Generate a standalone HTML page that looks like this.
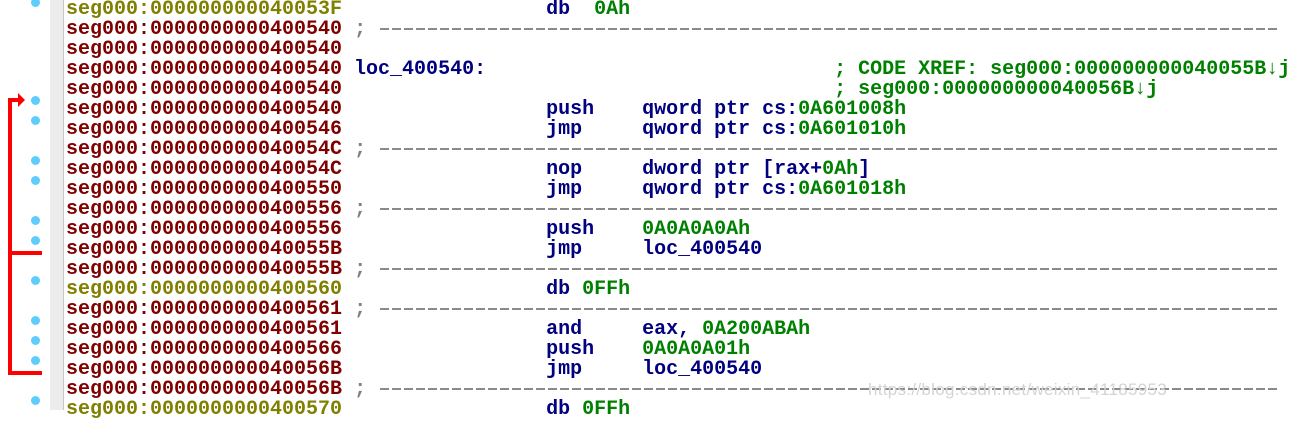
<!DOCTYPE html><html><head><style>
body{margin:0;width:1294px;height:410px;overflow:hidden;background:#fff;position:relative}
.r{position:absolute;left:66px;font:bold 20px/20px "Liberation Mono",monospace;white-space:pre;color:#000080}
.a{color:#800000}.o{color:#808000}.g{color:#008000}.d{color:#808080}
.dot{position:absolute;left:31px;width:9px;height:9px;border-radius:50%;background:#5fcdfb}
.ln{position:absolute;left:380px;width:898px;height:2px;background:repeating-linear-gradient(90deg,#8a8a8a 0 9px,transparent 9px 12px)}
</style></head><body>
<div style="position:absolute;left:50px;top:0;width:13px;height:410px;background:#ececec"></div>
<div style="position:absolute;left:63px;top:0;width:1px;height:410px;background:#c8c8c8"></div>
<svg style="position:absolute;left:0;top:0" width="60" height="410">
<path d="M10 375 V100 H19" stroke="#f00" stroke-width="4" fill="none"/>
<polygon points="18,93 25,100 18,107" fill="#f00"/>
<path d="M10 253 H42 M10 373 H42" stroke="#f00" stroke-width="4" fill="none"/>
</svg>
<div class="dot" style="top:-2px"></div>
<div class="dot" style="top:96px"></div><div class="dot" style="top:116px"></div>
<div class="dot" style="top:156px"></div><div class="dot" style="top:176px"></div>
<div class="dot" style="top:216px"></div><div class="dot" style="top:236px"></div>
<div class="dot" style="top:276px"></div>
<div class="dot" style="top:316px"></div><div class="dot" style="top:336px"></div><div class="dot" style="top:356px"></div>
<div class="dot" style="top:396px"></div>
<div class="ln" style="top:28px"></div><div class="ln" style="top:148px"></div><div class="ln" style="top:208px"></div>
<div class="ln" style="top:268px"></div><div class="ln" style="top:308px"></div><div class="ln" style="top:388px"></div>
<div class="r" style="top:0px"><span class="o">seg000:000000000040053F</span>                 db  <span class="g">0Ah</span></div>
<div class="r" style="top:20px"><span class="a">seg000:0000000000400540</span> <span class="d">;</span></div>
<div class="r" style="top:40px"><span class="a">seg000:0000000000400540</span></div>
<div class="r" style="top:60px"><span class="a">seg000:0000000000400540</span> loc_400540:                             <span class="g">; CODE XREF: seg000:000000000040055B↓j</span></div>
<div class="r" style="top:80px"><span class="a">seg000:0000000000400540</span>                                         <span class="g">; seg000:000000000040056B↓j</span></div>
<div class="r" style="top:100px"><span class="a">seg000:0000000000400540</span>                 push    qword ptr cs:<span class="g">0A601008h</span></div>
<div class="r" style="top:120px"><span class="a">seg000:0000000000400546</span>                 jmp     qword ptr cs:<span class="g">0A601010h</span></div>
<div class="r" style="top:140px"><span class="a">seg000:000000000040054C</span> <span class="d">;</span></div>
<div class="r" style="top:160px"><span class="a">seg000:000000000040054C</span>                 nop     dword ptr [rax+<span class="g">0Ah</span>]</div>
<div class="r" style="top:180px"><span class="a">seg000:0000000000400550</span>                 jmp     qword ptr cs:<span class="g">0A601018h</span></div>
<div class="r" style="top:200px"><span class="a">seg000:0000000000400556</span> <span class="d">;</span></div>
<div class="r" style="top:220px"><span class="a">seg000:0000000000400556</span>                 push    <span class="g">0A0A0A0Ah</span></div>
<div class="r" style="top:240px"><span class="a">seg000:000000000040055B</span>                 jmp     loc_400540</div>
<div class="r" style="top:260px"><span class="a">seg000:000000000040055B</span> <span class="d">;</span></div>
<div class="r" style="top:280px"><span class="o">seg000:0000000000400560</span>                 db <span class="g">0FFh</span></div>
<div class="r" style="top:300px"><span class="a">seg000:0000000000400561</span> <span class="d">;</span></div>
<div class="r" style="top:320px"><span class="a">seg000:0000000000400561</span>                 and     eax, <span class="g">0A200ABAh</span></div>
<div class="r" style="top:340px"><span class="a">seg000:0000000000400566</span>                 push    <span class="g">0A0A0A01h</span></div>
<div class="r" style="top:360px"><span class="a">seg000:000000000040056B</span>                 jmp     loc_400540</div>
<div class="r" style="top:380px"><span class="a">seg000:000000000040056B</span> <span class="d">;</span></div>
<div class="r" style="top:400px"><span class="o">seg000:0000000000400570</span>                 db <span class="g">0FFh</span></div>
<div style="position:absolute;left:868px;top:380px;font:17px 'Liberation Sans',sans-serif;letter-spacing:0.3px;color:#d4d4d4">https://blog.csdn.net/weixin_41185953</div>
</body></html>
